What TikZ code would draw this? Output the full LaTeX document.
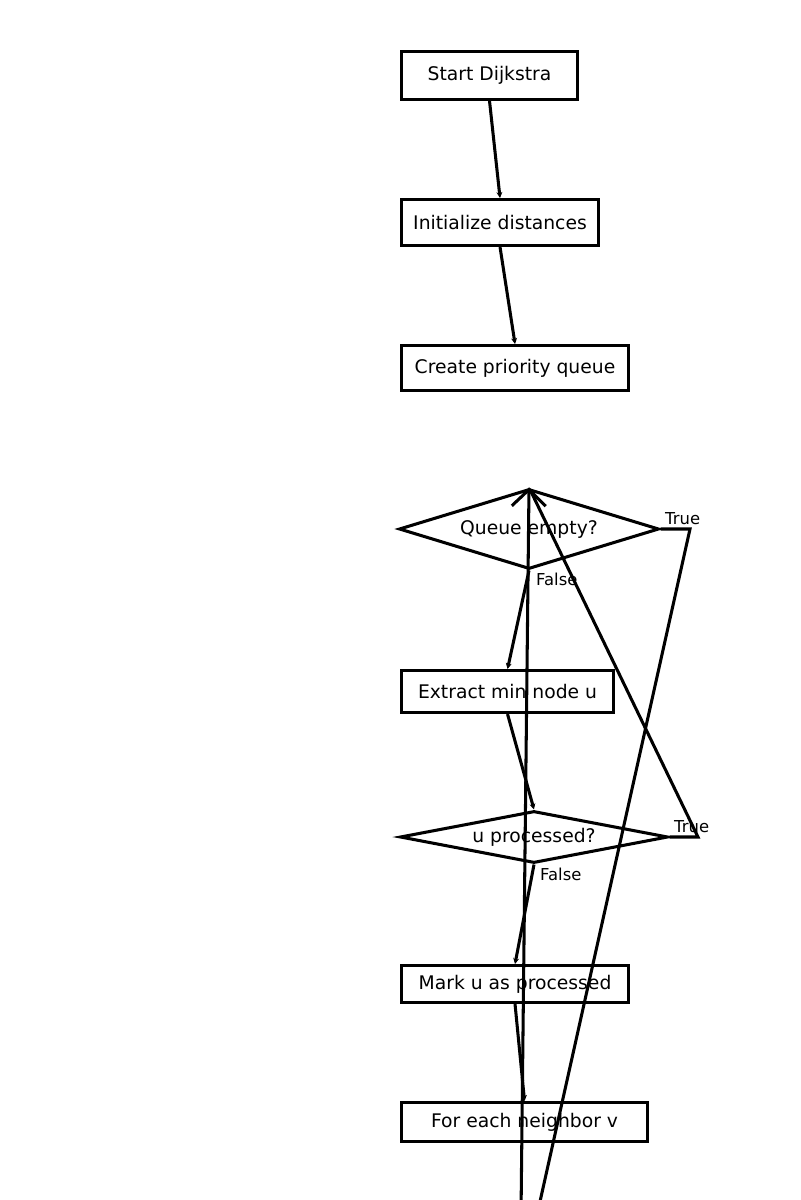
\documentclass[tikz,border=0pt]{standalone}
\usepackage{fontspec}
\setmainfont{DejaVu Sans}
\usetikzlibrary{shapes.geometric, arrows.meta}
\tikzset{
 box/.style={draw, rectangle, line width=2.6pt, inner sep=0pt, anchor=north west, font=\fontsize{16}{19}\selectfont},
 decision/.style={draw, diamond, line width=2.6pt, inner sep=0pt, font=\fontsize{16}{19}\selectfont},
 lbl/.style={inner sep=0pt, anchor=west, font=\fontsize{14}{17}\selectfont},
 flow/.style={line width=2.6pt, -{Stealth[length=5pt, width=5pt]}},
 plain/.style={line width=2.6pt},
 back/.style={line width=2.6pt, -{Straight Barb[length=14pt, width=29pt]}}
}

\begin{document}
\begin{tikzpicture}[x=0.03cm, y=-0.03cm]
 \fill[white] (0,0) rectangle (800,1200);
 \useasboundingbox (0,0) rectangle (800,1200);
 \clip (0,0) rectangle (800,1200);

 \node[box, minimum width=5.28cm, minimum height=1.44cm] (start) at (400,50) {Start Dijkstra};
 \node[box, minimum width=5.91cm, minimum height=1.38cm] (init) at (400,198) {Initialize distances};
 \node[box, minimum width=6.81cm, minimum height=1.35cm] (create) at (400,344) {Create priority queue};
 \node[decision, aspect=3.25, minimum width=7.8cm, minimum height=2.4cm] (queue) at (529,529) {Queue empty?};
 \node[box, minimum width=6.36cm, minimum height=1.26cm] (extract) at (400,669) {Extract min node u};
 \node[decision, aspect=5.15, minimum width=8.04cm, minimum height=1.56cm] (uproc) at (534,837) {u processed?};
 \node[box, minimum width=6.81cm, minimum height=1.11cm] (mark) at (400,964) {Mark u as processed};
 \node[box, minimum width=7.38cm, minimum height=1.17cm] (foreach) at (400,1101) {For each neighbor v};

 \node[lbl] (qtruelbl) at (665,519) {True};
 \node[lbl] (qfalselbl) at (536,579) {False};
 \node[lbl] (utruelbl) at (674,827) {True};
 \node[lbl] (ufalselbl) at (540,874) {False};

 \coordinate (qtrue) at (690,529);
 \coordinate (qend) at (537,1215);
 \coordinate (utrue) at (698,837);
 \coordinate (loopin) at (521,1215);

 \draw[flow] (start.south) -- (init.north);
 \draw[flow] (init.south) -- (create.north);
 \draw[flow] (queue.south) -- (extract.north);
 \draw[flow] (extract.south) -- (uproc.north);
 \draw[flow] (uproc.south) -- (mark.north);
 \draw[flow] (mark.south) -- (foreach.north);

 \draw[plain] (queue.east) -- (qtrue) -- (qend);
 \draw[flow] (uproc.east) -- (utrue) -- (queue.north);
 \draw[back] (loopin) -- (queue.north);
\end{tikzpicture}
\end{document}
